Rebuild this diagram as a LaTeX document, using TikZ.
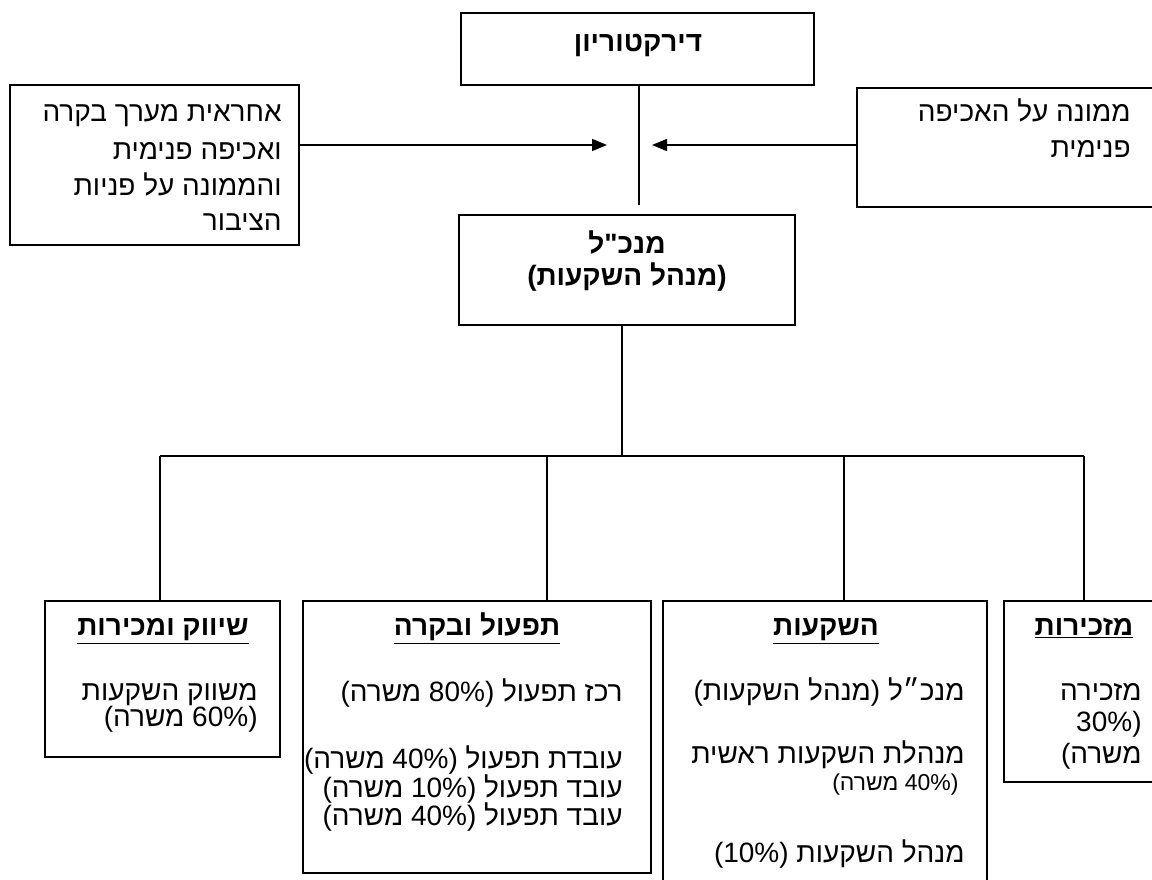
\documentclass[tikz,border=0pt]{standalone}
\usepackage{fontspec}
\newfontfamily\heb[Script=Hebrew]{Liberation Sans}
\TeXXeTstate=1
\usetikzlibrary{arrows.meta,fit}
\begin{document}
\begin{tikzpicture}[x=0.5pt,y=-0.5pt,
  box/.style={draw, line width=0.8pt, inner sep=0pt},
  ln/.style={line width=0.8pt},
  txt/.style={anchor=base east, inner sep=0pt, font=\heb\fontsize{14}{16}\selectfont},
  smalltxt/.style={anchor=base east, inner sep=0pt, font=\heb\fontsize{11.5}{13}\selectfont},
  ttl/.style={anchor=base, inner sep=0pt, font=\heb\bfseries\fontsize{14}{16}\selectfont},
  arr/.style={line width=0.8pt, -{Triangle[length=7.5pt,width=6pt]}}]
\useasboundingbox (0,0) rectangle (1152,879);
% boxes
\node[box, fit={(461,13) (814,85)}] (dir) {};
\node[box, fit={(10,85) (299,245)}] (lbox) {};
\node[box, fit={(857,88) (1160,207)}] (rbox) {};
\node[box, fit={(459,215) (795,325)}] (mgr) {};
\node[box, fit={(45,601) (280,757)}] (b1) {};
\node[box, fit={(303,601) (651,873)}] (b2) {};
\node[box, fit={(663,601) (987,890)}] (b3) {};
\node[box, fit={(1004,601) (1160,782)}] (b4) {};
% texts
\node[ttl] (dirt) at (638,51) {\beginR דירקטוריון\endR};
\node[txt] (l1) at (282,121) {\beginR אחראית מערך בקרה\endR};
\node[txt] (l2) at (282,159) {\beginR ואכיפה פנימית\endR};
\node[txt] (l3) at (282,195) {\beginR והממונה על פניות\endR};
\node[txt] (l4) at (282,230) {\beginR הציבור\endR};
\node[txt] (r1) at (1131,121) {\beginR ממונה על האכיפה\endR};
\node[txt] (r2) at (1131,157) {\beginR פנימית\endR};
\node[ttl] (m1) at (627,253) {\beginR מנכ"ל\endR};
\node[ttl] (m2) at (627,285) {\beginR (מנהל השקעות)\endR};
\node[ttl] (t1) at (163,635) {\underline{\beginR שיווק ומכירות\endR}};
\node[txt] (b1a) at (258,700) {\beginR משווק השקעות\endR};
\node[txt] (b1b) at (258,726) {\beginR (60\% משרה)\endR};
\node[ttl] (t2) at (477,635) {\underline{\beginR תפעול ובקרה\endR}};
\node[txt] (b2a) at (623,701) {\beginR רכז תפעול (80\% משרה)\endR};
\node[txt] (b2b) at (623,768) {\beginR עובדת תפעול (40\% משרה)\endR};
\node[txt] (b2c) at (623,797) {\beginR עובד תפעול (10\% משרה)\endR};
\node[txt] (b2d) at (623,825) {\beginR עובד תפעול (40\% משרה)\endR};
\node[ttl] (t3) at (826,635) {\underline{\beginR השקעות\endR}};
\node[txt] (b3a) at (965,700) {\beginR מנכ״ל (מנהל השקעות)\endR};
\node[txt] (b3b) at (965,763) {\beginR מנהלת השקעות ראשית\endR};
\node[smalltxt] (b3c) at (959,790) {\beginR (40\% משרה)\endR};
\node[txt] (b3d) at (965,862) {\beginR מנהל השקעות (10\%)\endR};
\node[ttl] (t4) at (1084,635) {\underline{\beginR מזכירות\endR}};
\node[txt] (b4a) at (1142,700) {\beginR מזכירה\endR};
\node[txt] (b4b) at (1142,731) {\beginR (30\%\endR};
\node[txt] (b4c) at (1142,763) {\beginR משרה)\endR};
% connectors
\coordinate (dend) at (639,205);
\draw[ln] (dir.south -| dend) -- (dend);
\coordinate (atip) at (607,145);
\coordinate (btip) at (652,145);
\draw[arr] (lbox.east |- atip) -- (atip);
\draw[arr] (rbox.west |- btip) -- (btip);
\coordinate (bus) at (622,456);
\coordinate (d1) at (160,456);
\coordinate (d2) at (547,456);
\coordinate (d3) at (844,456);
\coordinate (d4) at (1084,456);
\draw[ln] (mgr.south -| bus) -- (bus);
\draw[ln] (d1) -- (d4);
\draw[ln] (d1) -- (d1 |- b1.north);
\draw[ln] (d2) -- (d2 |- b2.north);
\draw[ln] (d3) -- (d3 |- b3.north);
\draw[ln] (d4) -- (d4 |- b4.north);
\end{tikzpicture}
\end{document}
